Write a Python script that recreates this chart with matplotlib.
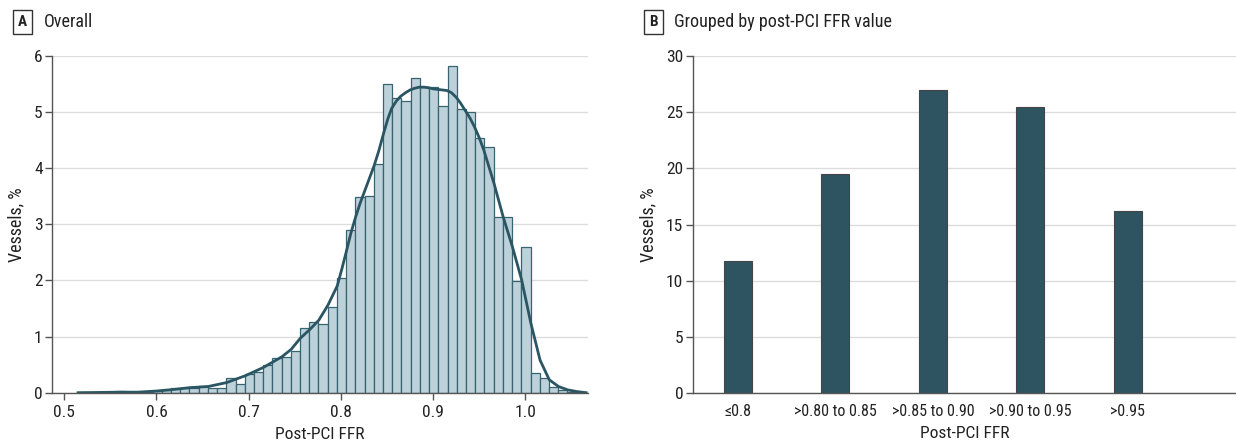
import numpy as np
import matplotlib
matplotlib.use("Agg")
import matplotlib.pyplot as plt

plt.rcParams['font.family'] = ['Roboto Condensed', 'Roboto', 'DejaVu Sans']

# Panel A: histogram of post-PCI FFR (bin width 0.01), percent of vessels
bin_start = 0.5157
bin_width = 0.01
hist_pct = [0.02, 0.0, 0.0, 0.0, 0.025, 0.0, 0.0, 0.01, 0.03, 0.05,
            0.08, 0.08, 0.09, 0.125, 0.09, 0.085, 0.26, 0.155, 0.33, 0.36,
            0.50, 0.61, 0.64, 0.75, 1.15, 1.25, 1.23, 1.52, 2.05, 2.89,
            3.48, 3.51, 4.08, 5.50, 5.25, 5.19, 5.60, 5.44, 5.44, 5.11,
            5.81, 5.05, 4.99, 4.54, 4.38, 3.13, 3.13, 1.99, 2.60, 0.345,
            0.256, 0.095, 0.048, 0.02, 0.01]

# density curve
curve_x = [0.515, 0.54, 0.56, 0.58, 0.60, 0.62, 0.636, 0.656, 0.676, 0.696,
           0.716, 0.736, 0.746, 0.756, 0.766, 0.776, 0.786, 0.796, 0.801,
           0.806, 0.811, 0.816, 0.821, 0.826, 0.831, 0.836, 0.841, 0.846,
           0.851, 0.855, 0.860, 0.865, 0.870, 0.875, 0.880, 0.885, 0.890,
           0.895, 0.900, 0.905, 0.910, 0.915, 0.920, 0.925, 0.930, 0.935,
           0.940, 0.945, 0.950, 0.955, 0.966, 0.976, 0.986, 0.996, 1.006,
           1.016, 1.026, 1.036, 1.046, 1.056, 1.066]
curve_y = [0.0, 0.005, 0.01, 0.01, 0.03, 0.06, 0.09, 0.11, 0.18, 0.30,
           0.45, 0.64, 0.77, 0.97, 1.12, 1.29, 1.56, 1.90, 2.20,
           2.52, 2.85, 3.13, 3.38, 3.60, 3.82, 4.04, 4.30, 4.60,
           4.88, 5.06, 5.19, 5.28, 5.34, 5.39, 5.42, 5.44, 5.44,
           5.43, 5.41, 5.40, 5.39, 5.38, 5.34, 5.26, 5.15, 5.02,
           4.89, 4.73, 4.54, 4.32, 3.73, 3.13, 2.60, 2.01, 1.24,
           0.58, 0.23, 0.11, 0.05, 0.02, 0.0]

# Panel B: grouped
groups = ['≤0.8', '>0.80 to 0.85', '>0.85 to 0.90', '>0.90 to 0.95', '>0.95']
group_pct = [11.8, 19.5, 27.0, 25.5, 16.2]

W, H = 1236, 445
fig = plt.figure(figsize=(W / 100, H / 100), dpi=100)

grid_c = '#dcdcdc'
spine_c = '#555555'
text_c = '#222222'


def style_axes(ax):
    for s in ['top', 'right']:
        ax.spines[s].set_visible(False)
    for s in ['left', 'bottom']:
        ax.spines[s].set_color(spine_c)
        ax.spines[s].set_linewidth(1.0)
    ax.yaxis.grid(True, color=grid_c, linewidth=1.0)
    ax.set_axisbelow(True)
    ax.tick_params(colors=spine_c, labelcolor=text_c, labelsize=12.5, length=5,
                   width=1, pad=2)


def panel_label(x, letter, title):
    fig.text(x / W, 1 - 22 / H, letter, ha='center', va='center', fontsize=11,
             fontweight='bold', color=text_c,
             bbox=dict(boxstyle='square,pad=0.35', fc='white', ec='#333333', lw=1))
    fig.text((x + 21) / W, 1 - 22 / H, title, ha='left', va='center',
             fontsize=13, color=text_c)


# --- Panel A
axA = fig.add_axes([52.3 / W, 1 - 392.7 / H, (588 - 52.3) / W, (392.7 - 55.7) / H])
style_axes(axA)
edges = bin_start + bin_width * np.arange(len(hist_pct))
axA.bar(edges, hist_pct, width=bin_width, align='edge', color='#bcd1da',
        edgecolor='#3a6370', linewidth=0.9)
axA.plot(curve_x, curve_y, color='#2a5563', linewidth=2.0)
axA.set_xlim(0.487, 1.068)
axA.set_ylim(0, 6)
axA.set_xticks([0.5, 0.6, 0.7, 0.8, 0.9, 1.0])
axA.set_xticklabels(['0.5', '0.6', '0.7', '0.8', '0.9', '1.0'])
axA.set_yticks(range(7))
axA.tick_params(axis='x', pad=4)
axA.set_xlabel('Post-PCI FFR', fontsize=12.5, color=text_c, labelpad=5)
axA.set_ylabel('Vessels, %', fontsize=13, color=text_c, labelpad=6)
panel_label(22.5, 'A', 'Overall')

# --- Panel B
axB = fig.add_axes([693 / W, 1 - 393.3 / H, (1236 - 693) / W, (393.3 - 56) / H])
style_axes(axB)
xpos = np.arange(len(groups))
axB.bar(xpos, group_pct, width=0.29, color='#2e5462', edgecolor='#444444',
        linewidth=0.8)
axB.set_xlim(-0.46, 5.11)
axB.set_ylim(0, 30)
axB.set_yticks(range(0, 31, 5))
axB.set_xticks(xpos)
axB.set_xticklabels(groups)
axB.tick_params(axis='x', length=0, pad=8, labelsize=11.5)
axB.set_xlabel('Post-PCI FFR', fontsize=12.5, color=text_c, labelpad=5)
axB.set_ylabel('Vessels, %', fontsize=13, color=text_c, labelpad=6)
panel_label(653.3, 'B', 'Grouped by post-PCI FFR value')

fig.savefig('out.png', dpi=100)
